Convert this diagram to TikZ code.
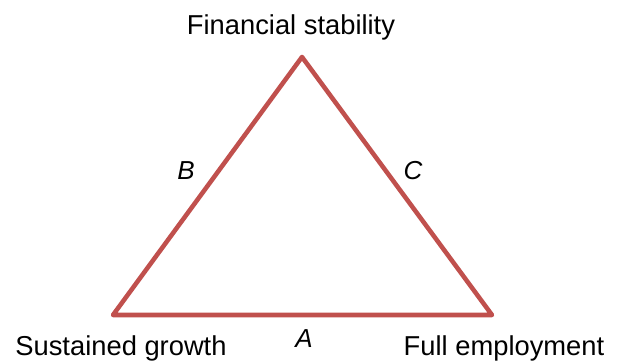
\documentclass[tikz,border=0pt]{standalone}
\usepackage{fontspec}
\setmainfont{Liberation Sans}
\usepackage{xcolor}
\usepackage{tikz}
\usetikzlibrary{positioning}

\definecolor{edgered}{RGB}{192,80,77}

\begin{document}
\begin{tikzpicture}[
  x=0.75pt, y=-0.75pt,
  goal/.style={inner sep=0pt, anchor=base, font=\fontsize{20.5}{24}\selectfont},
  side/.style={inner sep=0pt, anchor=base, font=\fontsize{19.5}{23}\selectfont\itshape},
  edge/.style={draw=edgered, line width=3.4pt, line join=round}
]
  \useasboundingbox (0,0) rectangle (619,361);

  % Corners of the triangle
  \coordinate (top) at (302,57);
  \coordinate (left) at (113,315);
  \coordinate (right) at (492,315);

  % Triangle
  \draw[edge] (top) -- (right) -- (left) -- cycle;

  % Goals at the corners
  \node[goal] (stab) at (291,34) {Financial stability};
  \node[goal] (growth) at (121,355) {Sustained growth};
  \node[goal] (employ) at (504,355) {Full employment};

  % Side labels
  \node[side] (sa) at (304,347) {A};
  \node[side] (sb) at (186,179) {B};
  \node[side] (sc) at (413,179) {C};
\end{tikzpicture}
\end{document}
